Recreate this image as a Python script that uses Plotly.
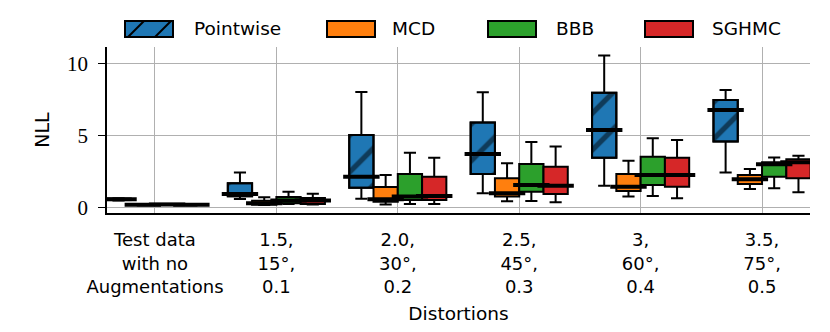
import plotly.graph_objects as go

# Distortion levels (x categories)
categories = [
    "Test data<br>with no<br>Augmentations",
    "1.5,<br>15°,<br>0.1",
    "2.0,<br>30°,<br>0.2",
    "2.5,<br>45°,<br>0.3",
    "3,<br>60°,<br>0.4",
    "3.5,<br>75°,<br>0.5",
]

methods = ["Pointwise", "MCD", "BBB", "SGHMC"]
colors = ["#1f77b4", "#ff7f0e", "#2ca02c", "#d62728"]

# box statistics per method, one value per distortion level
pointwise_low = [0.50, 0.60, 0.63, 1.00, 1.53, 2.44]
pointwise_q1 = [0.53, 0.80, 1.39, 2.35, 3.48, 4.60]
pointwise_med = [0.58, 0.95, 2.16, 3.74, 5.41, 6.80]
pointwise_q3 = [0.63, 1.70, 5.06, 5.92, 8.00, 7.50]
pointwise_high = [0.66, 2.44, 8.05, 8.03, 10.58, 8.19]

mcd_low = [0.16, 0.18, 0.23, 0.44, 0.77, 1.30]
mcd_q1 = [0.18, 0.20, 0.42, 0.77, 1.16, 1.65]
mcd_med = [0.21, 0.30, 0.58, 1.00, 1.46, 1.97]
mcd_q3 = [0.24, 0.49, 1.44, 2.04, 2.35, 2.28]
mcd_high = [0.26, 0.72, 2.28, 3.09, 3.27, 2.69]

bbb_low = [0.18, 0.25, 0.26, 0.47, 0.81, 1.35]
bbb_q1 = [0.20, 0.30, 0.54, 1.11, 1.58, 2.16]
bbb_med = [0.23, 0.50, 0.77, 1.58, 2.28, 3.02]
bbb_q3 = [0.26, 0.75, 2.35, 3.04, 3.55, 3.16]
bbb_high = [0.28, 1.10, 3.83, 4.57, 4.83, 3.50]

sghmc_low = [0.16, 0.22, 0.26, 0.37, 0.65, 1.07]
sghmc_q1 = [0.18, 0.26, 0.54, 0.95, 1.46, 2.04]
sghmc_med = [0.20, 0.50, 0.81, 1.53, 2.28, 3.16]
sghmc_q3 = [0.23, 0.67, 2.16, 2.85, 3.48, 3.37]
sghmc_high = [0.25, 0.97, 3.48, 4.25, 4.71, 3.62]

stats = {
    "Pointwise": (pointwise_low, pointwise_q1, pointwise_med, pointwise_q3, pointwise_high),
    "MCD": (mcd_low, mcd_q1, mcd_med, mcd_q3, mcd_high),
    "BBB": (bbb_low, bbb_q1, bbb_med, bbb_q3, bbb_high),
    "SGHMC": (sghmc_low, sghmc_q1, sghmc_med, sghmc_q3, sghmc_high),
}

# page body has an 8px margin, so the figure is 8px smaller and everything shifts
PAGE = 8
W, H = 830 - PAGE, 332 - PAGE
M_L, M_R, M_T, M_B = 107 - PAGE, 20, 47 - PAGE, 119
BOX_W = 0.2
offsets = [-0.3, -0.1, 0.1, 0.3]
SANS = "DejaVu Sans"

fig = go.Figure()

for i, name in enumerate(methods):
    low, q1, med, q3, high = stats[name]
    xs = [k + offsets[i] for k in range(len(categories))]
    hatched = name == "Pointwise"
    if hatched:
        # hatched fill for the pointwise boxes
        fig.add_trace(go.Bar(
            x=xs, y=[b - a for a, b in zip(q1, q3)], base=q1, width=BOX_W,
            marker=dict(color=colors[i], line=dict(color="black", width=2),
                        pattern=dict(shape="/", fgcolor="black", size=26, solidity=0.2)),
            showlegend=False, hoverinfo="skip",
        ))
    fig.add_trace(go.Box(
        x=xs, q1=q1, median=med, q3=q3, lowerfence=low, upperfence=high,
        width=BOX_W, whiskerwidth=0.5,
        fillcolor="rgba(0,0,0,0)" if hatched else colors[i],
        line=dict(color="black", width=2),
        boxpoints=False, name=name, showlegend=False,
    ))
    # thick median bars like matplotlib
    fig.add_trace(go.Scatter(
        x=xs, y=med, mode="markers",
        marker=dict(symbol="line-ew", size=26, line=dict(color="black", width=4)),
        showlegend=False, hoverinfo="skip",
    ))


def px_x(p):
    return (p - PAGE - M_L) / (W - M_L - M_R)


def px_y(p):
    return 1 - (p - PAGE - M_T) / (H - M_T - M_B)


# legend drawn by hand: wide swatches like the matplotlib one
sw_x = [125, 327, 488, 645]
txt_x = [192, 390, 554, 710]
for i, name in enumerate(methods):
    x0, x1 = sw_x[i], sw_x[i] + 48
    fig.add_shape(type="rect", xref="paper", yref="paper",
                  x0=px_x(x0), x1=px_x(x1), y0=px_y(37), y1=px_y(21),
                  fillcolor=colors[i], line=dict(color="black", width=2))
    if name == "Pointwise":
        for a in (3, 30):
            fig.add_shape(type="line", xref="paper", yref="paper",
                          x0=px_x(x0 + a), y0=px_y(37), x1=px_x(x0 + a + 16), y1=px_y(21),
                          line=dict(color="black", width=2))
    fig.add_annotation(text=name, xref="paper", yref="paper",
                       x=px_x(txt_x[i]), y=px_y(29), xanchor="left", yanchor="middle",
                       showarrow=False, font=dict(family=SANS, size=18.5, color="black"))

fig.update_layout(
    width=W, height=H,
    margin=dict(l=M_L, r=M_R, t=M_T, b=M_B),
    paper_bgcolor="white", plot_bgcolor="white",
    barmode="overlay", boxmode="overlay",
    showlegend=False,
)
fig.update_xaxes(
    range=[-0.395, 5.395], tickmode="array",
    tickvals=list(range(len(categories))), ticktext=categories,
    showgrid=True, gridcolor="#b0b0b0", gridwidth=1.2,
    showline=True, linecolor="black", linewidth=1.5,
    ticks="", ticklabelstandoff=10, zeroline=False,
    tickfont=dict(family=SANS, size=18, color="black"),
    title=dict(text="Distortions", font=dict(family=SANS, size=18.5, color="black"), standoff=11),
)
fig.update_yaxes(
    range=[-0.37, 11.18], tickvals=[0, 5, 10],
    showgrid=True, gridcolor="#b0b0b0", gridwidth=1.2,
    showline=True, linecolor="black", linewidth=1.5,
    ticks="outside", ticklen=7, tickwidth=1.2, tickcolor="black", zeroline=False,
    ticklabelstandoff=6,
    tickfont=dict(family="Liberation Serif", size=21, color="black"),
    title=dict(text="NLL", font=dict(family=SANS, size=19, color="black"), standoff=12),
)

fig.write_html("out.html")
